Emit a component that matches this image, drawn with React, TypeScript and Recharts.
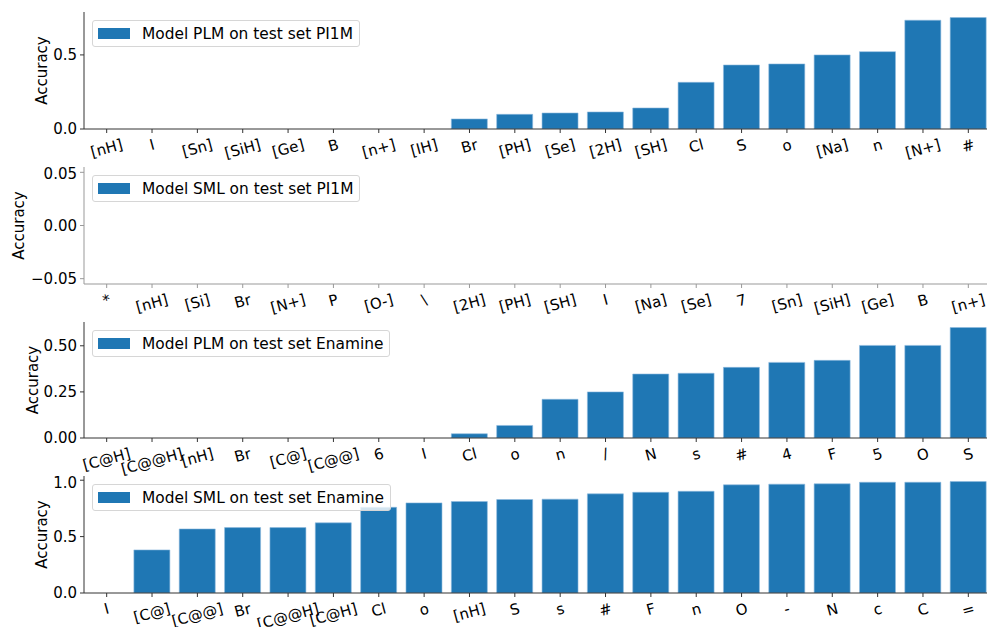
import React from "react";
import { BarChart, Bar, XAxis, YAxis, Legend } from "recharts";

// token accuracies, sorted ascending per model / test set
const plmPi1mTokens = ["[nH]", "I", "[Sn]", "[SiH]", "[Ge]", "B", "[n+]", "[IH]", "Br", "[PH]", "[Se]", "[2H]", "[SH]", "Cl", "S", "o", "[Na]", "n", "[N+]", "#"];
const plmPi1mAcc = [0, 0, 0, 0, 0, 0, 0, 0, 0.068, 0.099, 0.108, 0.115, 0.142, 0.315, 0.432, 0.439, 0.5, 0.522, 0.734, 0.752];

const smlPi1mTokens = ["*", "[nH]", "[Si]", "Br", "[N+]", "P", "[O-]", "\\", "[2H]", "[PH]", "[SH]", "I", "[Na]", "[Se]", "7", "[Sn]", "[SiH]", "[Ge]", "B", "[n+]"];
const smlPi1mAcc = [0, 0, 0, 0, 0, 0, 0, 0, 0, 0, 0, 0, 0, 0, 0, 0, 0, 0, 0, 0];

const plmEnamineTokens = ["[C@H]", "[C@@H]", "[nH]", "Br", "[C@]", "[C@@]", "6", "I", "Cl", "o", "n", "/", "N", "s", "#", "4", "F", "5", "O", "S"];
const plmEnamineAcc = [0, 0, 0, 0, 0, 0, 0, 0, 0.023, 0.068, 0.21, 0.25, 0.347, 0.351, 0.383, 0.41, 0.421, 0.502, 0.502, 0.599];

const smlEnamineTokens = ["I", "[C@]", "[C@@]", "Br", "[C@@H]", "[C@H]", "Cl", "o", "[nH]", "S", "s", "#", "F", "n", "O", "-", "N", "c", "C", "="];
const smlEnamineAcc = [0, 0.382, 0.568, 0.58, 0.58, 0.622, 0.76, 0.799, 0.811, 0.829, 0.832, 0.879, 0.893, 0.902, 0.959, 0.965, 0.968, 0.982, 0.982, 0.988];

const BLUE = "#1f77b4";
const FONT = "'DejaVu Sans', sans-serif";
const FS = 15;

let ctx: CanvasRenderingContext2D | null = null;
function textWidth(s: string) {
  if (!ctx) ctx = document.createElement("canvas").getContext("2d");
  if (!ctx) return s.length * 9;
  ctx.font = `${FS}px 'DejaVu Sans'`;
  return ctx.measureText(s).width;
}

const ROT = (15 * Math.PI) / 180;

function RotatedTick({ x, y, payload }: any) {
  const w = textWidth(payload.value);
  const bh = w * Math.sin(ROT) + 17 * Math.cos(ROT);
  const cy = y + bh / 2;
  return (
    <text
      x={0}
      y={0}
      textAnchor="middle"
      dominantBaseline="central"
      fontSize={FS}
      fill="#000"
      transform={`translate(${x},${cy}) rotate(-15)`}
    >
      {payload.value}
    </text>
  );
}

function Panel({ top, height, tokens, values, name, ticks, fmt, domain, titleX, axisColor }: any) {
  const data = tokens.map((t: string, i: number) => ({ token: t, acc: values[i] }));
  return (
    <div style={{ position: "absolute", left: 0, top }}>
      <BarChart
        width={991}
        height={height + 2 + 42}
        data={data}
        margin={{ top: 2, right: 0, bottom: 0, left: 0 }}
        barCategoryGap="10%"
      >
        <XAxis
          dataKey="token"
          interval={0}
          height={42}
          tickSize={4}
          tickMargin={3}
          stroke={axisColor}
          tickLine={{ stroke: axisColor }}
          tick={<RotatedTick />}
        />
        <XAxis xAxisId="frame" orientation="top" height={0} tick={false} tickLine={false} stroke={axisColor} />
        <YAxis
          width={84}
          domain={domain}
          ticks={ticks}
          tickFormatter={fmt}
          allowDataOverflow
          tickSize={4}
          tickMargin={3}
          stroke={axisColor}
          tick={{ fontSize: FS, fill: "#000" }}
          label={{
            content: (p: any) => {
              const vb = p.viewBox || {};
              const cy = (vb.y || 0) + (vb.height || 0) / 2;
              return (
                <text
                  x={titleX}
                  y={cy}
                  textAnchor="middle"
                  dominantBaseline="central"
                  fontSize={FS}
                  fill="#000"
                  transform={`rotate(-90, ${titleX}, ${cy})`}
                >
                  Accuracy
                </text>
              );
            },
          }}
        />
        <Legend
          layout="vertical"
          align="center"
          verticalAlign="middle"
          wrapperStyle={{ left: 92, top: 10, width: "auto", height: "auto" }}
          content={() => (
            <div
              style={{
                display: "flex",
                alignItems: "center",
                height: 27,
                boxSizing: "border-box",
                padding: "0 6px 0 5px",
                border: "1px solid #d6d6d6",
                borderRadius: 3,
                background: "rgba(255,255,255,0.8)",
                fontSize: 15.4,
                color: "#000",
                whiteSpace: "nowrap",
              }}
            >
              <span style={{ display: "inline-block", width: 32, height: 11, background: BLUE, marginRight: 12 }} />
              <span>{name}</span>
            </div>
          )}
        />
        <Bar dataKey="acc" name={name} fill={BLUE} stroke="#8fbadf" strokeWidth={0.6} isAnimationActive={false} />
      </BarChart>
    </div>
  );
}

const fmt1 = (v: number) => v.toFixed(1);
const fmt2 = (v: number) => (v < 0 ? "\u2212" + Math.abs(v).toFixed(2) : v.toFixed(2));

export default function App() {
  return (
    <div
      style={{
        position: "fixed",
        left: 0,
        top: 0,
        width: 987,
        height: 627,
        overflow: "hidden",
        background: "#fff",
        fontFamily: FONT,
      }}
    >
      <Panel
        top={10}
        height={117}
        tokens={plmPi1mTokens}
        values={plmPi1mAcc}
        name="Model PLM on test set PI1M"
        ticks={[0, 0.5]}
        fmt={fmt1}
        domain={[0, (m: number) => m * 1.05]}
        titleX={42}
        axisColor="#333"
      />
      <Panel
        top={165}
        height={117}
        tokens={smlPi1mTokens}
        values={smlPi1mAcc}
        name="Model SML on test set PI1M"
        ticks={[-0.05, 0, 0.05]}
        fmt={fmt2}
        domain={[-0.055, 0.055]}
        titleX={19}
        axisColor="#999"
      />
      <Panel
        top={320}
        height={116}
        tokens={plmEnamineTokens}
        values={plmEnamineAcc}
        name="Model PLM on test set Enamine"
        ticks={[0, 0.25, 0.5]}
        fmt={fmt2}
        domain={[0, (m: number) => m * 1.05]}
        titleX={33}
        axisColor="#333"
      />
      <Panel
        top={474}
        height={117}
        tokens={smlEnamineTokens}
        values={smlEnamineAcc}
        name="Model SML on test set Enamine"
        ticks={[0, 0.5, 1.0]}
        fmt={fmt1}
        domain={[0, (m: number) => m * 1.05]}
        titleX={42}
        axisColor="#333"
      />
    </div>
  );
}
